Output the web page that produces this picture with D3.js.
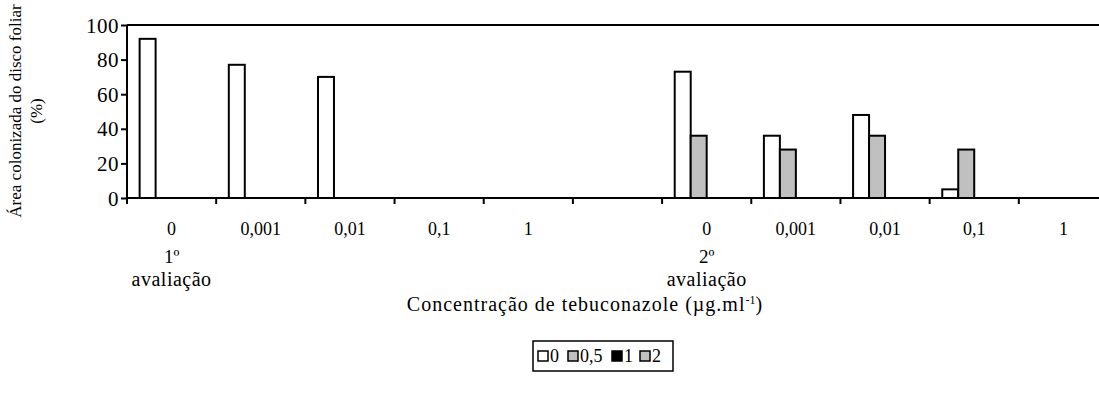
<!DOCTYPE html>
<html>
<head>
<meta charset="utf-8">
<script src="https://cdn.jsdelivr.net/npm/d3@7"></script>
<style>
  html, body { margin: 0; padding: 0; background: #fff; }
  svg { display: block; }
  text { font-family: "Liberation Serif", "Times New Roman", serif; fill: #000; }
</style>
</head>
<body>
<svg id="chart" width="1099" height="402"></svg>
<script>
// ---- data ----
const categories = ["g1_0", "g1_0.001", "g1_0.01", "g1_0.1", "g1_1", "gap", "g2_0", "g2_0.001", "g2_0.01", "g2_0.1", "g2_1"];
const categoryLabels = ["0", "0,001", "0,01", "0,1", "1", "", "0", "0,001", "0,01", "0,1", "1"];
const groupLabels = [{cat: "g1_0", l1: "1º", l2: "avaliação"}, {cat: "g2_0", l1: "2º", l2: "avaliação"}];
const seriesNames = ["0", "0,5", "1", "2"];
const seriesColors = ["#ffffff", "#c0c0c0", "#000000", "#c0c0c0"];
const serie0 = [92, 77, 70, 0, 0, null, 73, 36, 48, 5, 0];
const serie05 = [0, 0, 0, 0, 0, null, 36, 28, 36, 28, 0];
const serie1 = [0, 0, 0, 0, 0, null, 0, 0, 0, 0, 0];
const serie2 = [0, 0, 0, 0, 0, null, 0, 0, 0, 0, 0];
const seriesValues = [serie0, serie05, serie1, serie2];
const yTicks = [0, 20, 40, 60, 80, 100];

// ---- layout ----
(function () {
const svg = d3.select("#chart");
const mLeft = 127, mRight = 1108, mTop = 25, mBottom = 198;
const fs = 19;

const x0 = d3.scaleBand().domain(categories).range([mLeft, mRight]).paddingInner(0).paddingOuter(0);
const x1 = d3.scaleBand().domain(seriesNames).range([0, x0.bandwidth()]).paddingInner(0).paddingOuter(0.79);
const y = d3.scaleLinear().domain([0, 100]).range([mBottom, mTop]);

// top border
svg.append("line").attr("x1", mLeft).attr("x2", mRight).attr("y1", y(100)).attr("y2", y(100))
  .attr("stroke", "#000").attr("stroke-width", 2);

// bars
const barData = [];
seriesValues.forEach((vals, si) => {
  vals.forEach((v, ci) => {
    if (v !== null && v > 0) barData.push({cat: categories[ci], s: seriesNames[si], si, v});
  });
});
svg.append("g").selectAll("rect").data(barData).join("rect")
  .attr("x", d => x0(d.cat) + x1(d.s))
  .attr("y", d => y(d.v))
  .attr("width", x1.bandwidth())
  .attr("height", d => y(0) - y(d.v))
  .attr("fill", d => seriesColors[d.si])
  .attr("stroke", "#000").attr("stroke-width", 2);

// y axis
const yAxis = d3.axisLeft(y).tickValues(yTicks).tickSize(6).tickPadding(2).tickFormat(d3.format("d"));
const gy = svg.append("g").attr("transform", `translate(${mLeft},0)`).call(yAxis);
gy.select(".domain").attr("stroke-width", 2).attr("d", `M0,${y(100)}V${y(0) + 6}`);
gy.selectAll(".tick line").attr("stroke-width", 2);
gy.selectAll(".tick text").attr("font-size", 21).attr("font-family", "Liberation Serif")
  .attr("letter-spacing", "0.5px").attr("dy", "0.34em");

// x axis line
const boundaries = categories.map(c => x0(c)).concat([mRight]);
svg.append("line").attr("x1", mLeft).attr("x2", mRight).attr("y1", y(0)).attr("y2", y(0))
  .attr("stroke", "#000").attr("stroke-width", 2);
svg.append("g").selectAll("line").data(boundaries.slice(1)).join("line")
  .attr("x1", d => d).attr("x2", d => d).attr("y1", y(0)).attr("y2", y(0) + 6)
  .attr("stroke", "#000").attr("stroke-width", 2);

// category labels
svg.append("g").selectAll("text").data(categories).join("text")
  .attr("x", c => x0(c) + x0.bandwidth() / 2)
  .attr("y", 235)
  .attr("text-anchor", "middle").attr("font-size", 18)
  .text((c, i) => categoryLabels[i]);

// group labels
const gl = svg.append("g").selectAll("g").data(groupLabels).join("g");
gl.append("text").attr("x", d => x0(d.cat) + x0.bandwidth() / 2).attr("y", 263)
  .attr("text-anchor", "middle").attr("font-size", fs).text(d => d.l1);
gl.append("text").attr("x", d => x0(d.cat) + x0.bandwidth() / 2).attr("y", 286)
  .attr("text-anchor", "middle").attr("font-size", 20).attr("letter-spacing", "0.5px").text(d => d.l2);

// x title
const xt = svg.append("text").attr("x", 585).attr("y", 311).attr("text-anchor", "middle").attr("font-size", 20)
  .attr("letter-spacing", "1px");
xt.append("tspan").text("Concentração de tebuconazole (µg.ml");
xt.append("tspan").attr("font-size", 12).attr("dy", -7).attr("letter-spacing", "0px").text("-1");
xt.append("tspan").attr("dy", 7).text(")");

// y title
const yt = svg.append("text").attr("transform", "translate(21,111) rotate(-90)").attr("text-anchor", "middle").attr("font-size", 17);
yt.append("tspan").attr("x", 0).attr("dy", 0).text("Área colonizada do disco foliar");
yt.append("tspan").attr("x", 0).attr("dy", 21).text("(%)");

// legend
const lg = svg.append("g");
const lgX = 533, lgY = 341, lgW = 140, lgH = 30;
lg.append("rect").attr("x", lgX).attr("y", lgY).attr("width", lgW).attr("height", lgH)
  .attr("fill", "#fff").attr("stroke", "#000").attr("stroke-width", 1.5);
const itemX = [538, 568, 612, 640];
const items = lg.selectAll("g").data(seriesNames).join("g")
  .attr("transform", (d, i) => `translate(${itemX[i]},${lgY + lgH / 2})`);
items.append("rect").attr("x", 0).attr("y", -5).attr("width", 10).attr("height", 10)
  .attr("fill", (d, i) => seriesColors[i]).attr("stroke", "#000").attr("stroke-width", 1.5);
items.append("text").attr("x", 12).attr("y", 6).attr("font-size", 18).text(d => d);
})();
</script>
</body>
</html>
